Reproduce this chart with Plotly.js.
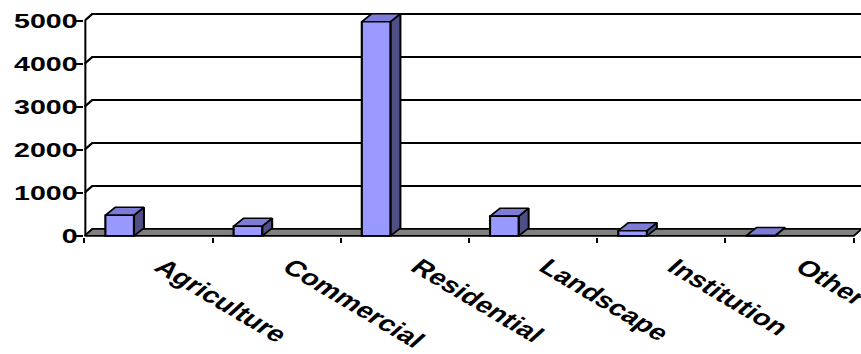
<!DOCTYPE html>
<html>
<head>
<meta charset="utf-8">
<script src="https://cdn.plot.ly/plotly-3.0.1.min.js"></script>
<style>
  html, body { margin: 0; padding: 0; background: #fff; overflow: hidden; }
  #wrap { width: 861px; height: 354px; overflow: hidden; }
  /* the chart is laid out narrow and stretched sideways, wide-type look */
  #chart { width: 633px; height: 354px; transform: scaleX(1.3602); transform-origin: 0 0; }
</style>
</head>
<body>
<div id="wrap"><div id="chart"></div></div>
<script>
// ---- data ----
const categories = ['Agriculture', 'Commercial', 'Residential', 'Landscape', 'Institution', 'Other'];
const values = [480, 225, 4980, 460, 120, 10];
const yTickVals = [0, 1000, 2000, 3000, 4000, 5000];

// ---- frame ----
const W = 633, H = 354;
const M = { l: 62.1, r: 0, t: 7.8, b: 117.2 };
const X_RANGE = [-0.5, 5.557];
const Y_RANGE = [-25, 5300];
const plotW = W - M.l - M.r;
const plotH = H - M.t - M.b;
const pxPerCat = plotW / (X_RANGE[1] - X_RANGE[0]);
const pxPerUnit = plotH / (Y_RANGE[1] - Y_RANGE[0]);

// depth of the walls / columns, given in screen px and turned into data units
const WALL = { dx: 5.9 / pxPerCat, dy: 7 / pxPerUnit };
const COL = { dx: 7.35 / pxPerCat, dy: 8 / pxPerUnit };
const COL_OFFSET = -0.336, COL_WIDTH = 0.223;

const FRONT = '#9999FF', TOP = '#7C7CD6', SIDE = '#4F4F86', FLOOR = '#808080';
const idx = categories.map((_, i) => i);
const xFirst = -0.5, xLast = categories.length - 0.5;
const yTop = yTickVals[yTickVals.length - 1];

const traces = [];

// back-wall gridlines, slanting back from the value axis
const gx = [], gy = [];
yTickVals.filter(v => v > 0).forEach(v => {
  gx.push(xFirst, xFirst + WALL.dx, X_RANGE[1] + 1, null);
  gy.push(v, v + WALL.dy, v + WALL.dy, null);
});
traces.push({ type: 'scatter', mode: 'lines', x: gx, y: gy,
  line: { color: '#000', width: 2 }, hoverinfo: 'skip', showlegend: false });

// floor
traces.push({ type: 'scatter', mode: 'lines',
  x: [xFirst, xLast, xLast + WALL.dx, xFirst + WALL.dx, xFirst],
  y: [0, 0, WALL.dy, WALL.dy, 0],
  fill: 'toself', fillcolor: FLOOR, line: { color: '#000', width: 1.6 },
  hoverinfo: 'skip', showlegend: false });

// value axis line
traces.push({ type: 'scatter', mode: 'lines', x: [xFirst, xFirst], y: [0, yTop],
  line: { color: '#000', width: 3 }, hoverinfo: 'skip', showlegend: false });

// column sides and tops
idx.forEach(i => {
  const L = i + COL_OFFSET, R = L + COL_WIDTH, v = values[i];
  traces.push({ type: 'scatter', mode: 'lines',
    x: [R, R + COL.dx, R + COL.dx, R, R],
    y: [0, COL.dy, v + COL.dy, v, 0],
    fill: 'toself', fillcolor: SIDE, line: { color: '#000', width: 1.5 },
    hoverinfo: 'skip', showlegend: false });
  traces.push({ type: 'scatter', mode: 'lines',
    x: [L, R, R + COL.dx, L + COL.dx, L],
    y: [v, v, v + COL.dy, v + COL.dy, v],
    fill: 'toself', fillcolor: TOP, line: { color: '#000', width: 1.5 },
    hoverinfo: 'skip', showlegend: false });
});

// column fronts (on the label axes, drawn over the sides and tops)
traces.push({ type: 'bar', x: idx, y: values, base: 0,
  width: COL_WIDTH, offset: COL_OFFSET, xaxis: 'x2', yaxis: 'y2',
  marker: { color: FRONT, line: { color: '#000', width: 1.6 } },
  hoverinfo: 'skip', showlegend: false });

const font = (size) => ({ family: 'Liberation Sans, Arial, sans-serif', size: size, color: '#000', weight: 'bold' });

const layout = {
  width: W, height: H,
  margin: M,
  paper_bgcolor: '#fff', plot_bgcolor: 'rgba(0,0,0,0)',
  showlegend: false,
  // tick marks on the category boundaries
  xaxis: {
    range: X_RANGE, showgrid: false, zeroline: false, showline: false,
    tickmode: 'array', tickvals: idx.concat([categories.length]).map(i => i - 0.5),
    ticktext: idx.concat([categories.length]).map(() => ''),
    ticks: 'outside', ticklen: 5, tickwidth: 1.5, tickcolor: '#000'
  },
  // category labels on the category centres
  xaxis2: {
    overlaying: 'x', anchor: 'y', side: 'bottom', range: X_RANGE,
    showgrid: false, zeroline: false, showline: false, ticks: '',
    tickmode: 'array', tickvals: idx, ticktext: categories,
    tickangle: 39, tickfont: font(22),
    ticklabelstandoff: 12, ticklabelshift: 10, ticklabeloverflow: 'allow'
  },
  // value tick marks
  yaxis: {
    range: Y_RANGE, showgrid: false, zeroline: false, showline: false,
    tickmode: 'array', tickvals: yTickVals, ticktext: yTickVals.map(() => ''),
    ticks: 'outside', ticklen: 6.5, tickwidth: 2, tickcolor: '#000'
  },
  // value labels
  yaxis2: {
    overlaying: 'y', anchor: 'x', side: 'left', range: Y_RANGE,
    showgrid: false, zeroline: false, showline: false, ticks: '',
    tickmode: 'array', tickvals: yTickVals, ticktext: yTickVals.map(String),
    tickfont: font(21), ticklabelstandoff: 4
  }
};

Plotly.newPlot('chart', traces, layout, { staticPlot: true, displayModeBar: false });
</script>
</body>
</html>
